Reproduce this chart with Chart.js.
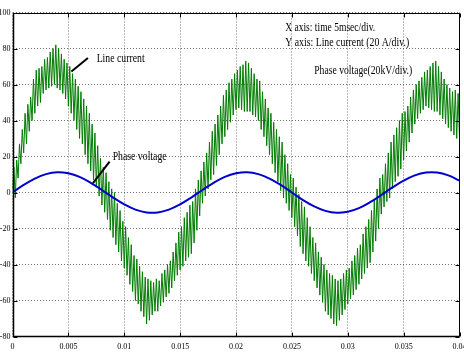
<!DOCTYPE html>
<html><head><meta charset="utf-8">
<script src="https://cdn.jsdelivr.net/npm/chart.js@4.4.1/dist/chart.umd.min.js"></script>
<style>html,body{margin:0;padding:0;background:#fff}canvas{display:block}</style>
</head><body>
<canvas id="c" width="464" height="357"></canvas>
<script>
// ---- data ----
const timeTickValues = [0, 0.005, 0.01, 0.015, 0.02, 0.025, 0.03, 0.035, 0.04];
const timeTickLabels = ['0', '0.005', '0.01', '0.015', '0.02', '0.025', '0.03', '0.035', '0.04'];
const yTickValues = [100, 80, 60, 40, 20, 0, -20, -40, -60, -80];

const voltageSampleStep = 0.001; // s between samples
const phaseVoltage = [
  0, 4.2, 7.7, 10.2, 11.3, 10.7, 8.7, 5.4, 1.4, -2.8,
  -6.6, -9.5, -11.1, -11.1, -9.5, -6.6, -2.8, 1.4, 5.4, 8.7,
  10.7, 11.3, 10.2, 7.7, 4.2, 0, -4.2, -7.7, -10.2, -11.3,
  -10.7, -8.7, -5.4, -1.4, 2.8, 6.6, 9.5, 11.1, 11.1, 9.5,
  6.6
];

const currentSampleStep = 0.000125; // s between samples
const lineCurrent = [
  2, 14, -3, 18, 8, 27, 16, 35,
  22, 44, 27, 49, 34, 53, 40, 63,
  44, 68, 48, 69, 50, 70, 55, 74,
  57, 75, 58, 78, 59, 80, 60, 82,
  58, 80, 57, 77, 55, 74, 52, 72,
  48, 70, 44, 66, 40, 63, 35, 59,
  30, 56, 27, 52, 21, 48, 16, 44,
  12, 38, 7, 33, 3, 26, -2, 19,
  -7, 14, -11, 11, -15, 6, -21, 2,
  -25, 0, -29, -6, -33, -10, -38, -16,
  -42, -19, -46, -25, -51, -29, -55, -35,
  -60, -37, -62, -41, -66, -44, -69, -47,
  -73, -48, -71, -49, -68, -50, -66, -48,
  -66, -49, -63, -45, -61, -43, -58, -40,
  -56, -38, -53, -33, -49, -28, -46, -22,
  -43, -19, -41, -14, -38, -11, -36, -7,
  -34, -5, -28, 2, -21, 7, -13, 12,
  -6, 17, -2, 22, 2, 28, 7, 34,
  10, 38, 15, 43, 21, 48, 27, 54,
  31, 57, 35, 61, 39, 63, 43, 66,
  46, 68, 47, 70, 46, 71, 45, 73,
  45, 72, 45, 69, 43, 66, 42, 63,
  40, 62, 35, 56, 31, 52, 26, 47,
  21, 44, 16, 39, 11, 35, 6, 31,
  1, 28, -3, 21, -6, 16, -10, 10,
  -14, 8, -19, 3, -24, -1, -30, -5,
  -34, -8, -38, -14, -41, -19, -45, -25,
  -49, -28, -53, -33, -57, -36, -61, -40,
  -66, -43, -68, -45, -70, -46, -73, -48,
  -74, -49, -71, -48, -68, -45, -65, -43,
  -62, -42, -59, -38, -57, -35, -54, -31,
  -51, -29, -48, -23, -45, -19, -42, -15,
  -39, -10, -33, -4, -27, 2, -20, 8,
  -12, 10, -8, 16, -5, 22, -3, 28,
  2, 32, 6, 36, 9, 40, 13, 44,
  18, 45, 23, 48, 28, 53, 33, 57,
  38, 60, 41, 62, 44, 64, 46, 67,
  48, 68, 47, 70, 46, 72, 45, 73,
  45, 70, 43, 67, 41, 63, 38, 60,
  36, 58, 34, 56, 32, 57, 30, 55,
  30
];

const seriesNames = ['Phase voltage', 'Line current'];
const noteTexts = ['X axis: time 5msec/div.', 'Y axis: Line current (20 A/div.)', 'Phase voltage(20kV/div.)'];

// ---- build points from arrays ----
const voltagePoints = phaseVoltage.map((v, i) => ({ x: +(i * voltageSampleStep).toFixed(6), y: v }));
const currentPoints = lineCurrent.map((v, i) => ({ x: +(i * currentSampleStep).toFixed(6), y: v }));

const SERIF = '"Liberation Serif", "Times New Roman", serif';

function fitText(ctx, text, x, y, width, size) {
  ctx.font = size + 'px ' + SERIF;
  const w = ctx.measureText(text).width;
  ctx.save();
  ctx.translate(x, y);
  ctx.scale(width / w, 1);
  ctx.fillText(text, 0, 0);
  ctx.restore();
}

const decorPlugin = {
  id: 'decor',
  afterDatasetsDraw(chart) {
    const { ctx, chartArea: a, scales: { x, y } } = chart;
    const L = Math.round(a.left) + 0.5, R = Math.round(a.right) - 0.5;
    const T = Math.round(a.top) + 0.5, B = Math.round(a.bottom) - 0.5;
    ctx.save();
    ctx.strokeStyle = '#000';
    ctx.lineWidth = 1;
    ctx.beginPath();
    ctx.moveTo(L, T); ctx.lineTo(R, T); ctx.lineTo(R, B);
    ctx.stroke();
    ctx.lineWidth = 1.5;
    ctx.beginPath();
    ctx.moveTo(L, T); ctx.lineTo(L, B); ctx.lineTo(R, B);
    ctx.stroke();
    // inward ticks
    ctx.lineWidth = 1;
    ctx.beginPath();
    timeTickValues.forEach(v => {
      const px = Math.round(x.getPixelForValue(v)) + 0.5;
      ctx.moveTo(px, B); ctx.lineTo(px, B - 4);
      ctx.moveTo(px, T); ctx.lineTo(px, T + 4);
    });
    yTickValues.forEach(v => {
      const py = Math.round(y.getPixelForValue(v)) + 0.5;
      ctx.moveTo(L, py); ctx.lineTo(L + 4, py);
      ctx.moveTo(R, py); ctx.lineTo(R - 4, py);
    });
    ctx.stroke();

    // arrows
    const P = (t, v) => [x.getPixelForValue(t), y.getPixelForValue(v)];
    ctx.lineWidth = 2;
    ctx.beginPath();
    let p = P(0.00675, 74.7); ctx.moveTo(p[0], p[1]);
    p = P(0.00527, 67.2); ctx.lineTo(p[0], p[1]);
    p = P(0.00869, 17.2); ctx.moveTo(p[0], p[1]);
    p = P(0.0072, 5.2); ctx.lineTo(p[0], p[1]);
    ctx.stroke();

    // texts
    ctx.fillStyle = '#000';
    ctx.textBaseline = 'alphabetic';
    ctx.textAlign = 'left';
    p = P(0.00753, 72.6); fitText(ctx, seriesNames[1], p[0], p[1], 48, 13);
    p = P(0.00896, 18.2); fitText(ctx, seriesNames[0], p[0], p[1], 54, 13);
    p = P(0.0244, 89.8); fitText(ctx, noteTexts[0], p[0], p[1], 90, 13);
    p = P(0.0244, 81.5); fitText(ctx, noteTexts[1], p[0], p[1], 124, 13);
    p = P(0.027, 66.0); fitText(ctx, noteTexts[2], p[0], p[1], 98, 13);
    ctx.restore();
  }
};

new Chart(document.getElementById('c'), {
  type: 'line',
  data: {
    datasets: [
      { label: seriesNames[0], data: voltagePoints, borderColor: 'rgb(0,0,205)', borderWidth: 2, pointRadius: 0, tension: 0.4, fill: false },
      { label: seriesNames[1], data: currentPoints, borderColor: 'rgb(0,125,0)', borderWidth: 1, pointRadius: 0, tension: 0, fill: false }
    ]
  },
  options: {
    responsive: false,
    animation: false,
    events: [],
    layout: { padding: { top: 12.5, right: 4.5, left: 0, bottom: 0 } },
    plugins: { legend: { display: false }, tooltip: { enabled: false } },
    scales: {
      x: {
        type: 'linear', min: 0, max: 0.04,
        afterBuildTicks: s => { s.ticks = timeTickValues.map(v => ({ value: v })); },
        afterFit: s => { s.height = 20.5; s.paddingLeft = 0; s.paddingRight = 0; },
        ticks: {
          callback: (v) => timeTickLabels[timeTickValues.indexOf(v)],
          font: { family: SERIF, size: 8 }, color: '#000', padding: 6, maxRotation: 0, autoSkip: false
        },
        grid: { color: 'rgba(0,0,0,0.55)', lineWidth: 1, drawTicks: false },
        border: { display: false, dash: [1, 2] }
      },
      y: {
        type: 'linear', min: -80, max: 100,
        afterBuildTicks: s => { s.ticks = yTickValues.map(v => ({ value: v })); },
        afterFit: s => { s.width = 12.5; s.paddingTop = 0; s.paddingBottom = 0; },
        ticks: { font: { family: SERIF, size: 8 }, color: '#000', padding: 2, autoSkip: false },
        grid: { color: 'rgba(0,0,0,0.55)', lineWidth: 1, drawTicks: false },
        border: { display: false, dash: [1, 2] }
      }
    }
  },
  plugins: [decorPlugin]
});
</script>
</body></html>
